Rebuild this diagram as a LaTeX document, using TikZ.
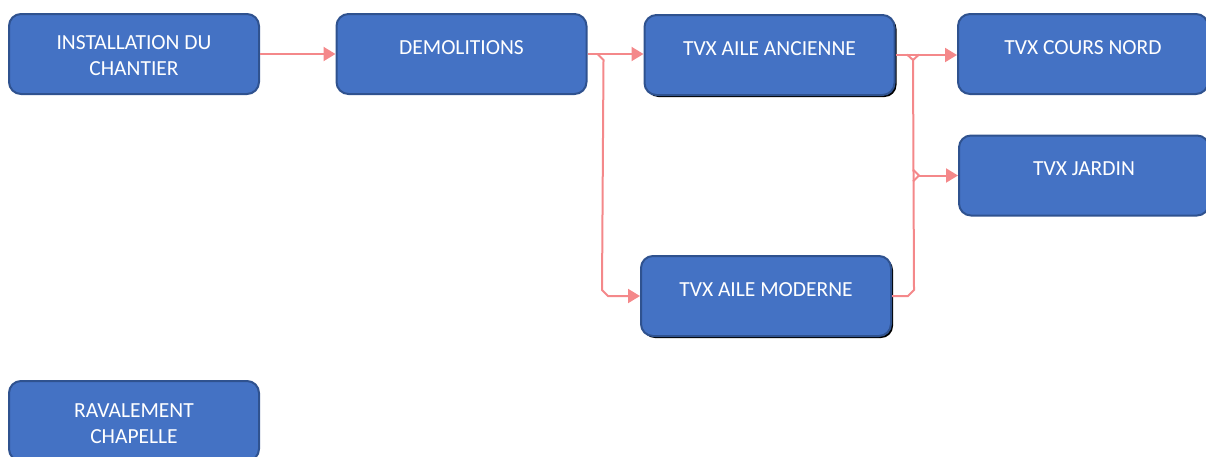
\documentclass[tikz,border=0pt]{standalone}
\usepackage{fontspec}
\setmainfont{Carlito}
\usetikzlibrary{arrows.meta,calc,shadows}
\definecolor{boxfill}{HTML}{4472C4}
\definecolor{boxline}{HTML}{2F528F}
\definecolor{connc}{HTML}{F4888A}
\begin{document}
\begin{tikzpicture}[x=1pt,y=-1pt,
  box/.style={draw=boxline, line width=2pt, fill=boxfill, rounded corners=12pt,
    minimum width=250pt, minimum height=80pt, inner sep=0pt},
  txt/.style={text=white, anchor=base, inner sep=0pt, font=\fontsize{21.5}{26}\selectfont},
  shadowed/.style={general shadow={fill=black, shadow xshift=2pt, shadow yshift=-2pt}},
  ln/.style={draw=connc, line width=2pt},
  arr/.style={ln, -{Triangle[length=12pt,width=14pt]}}]
\useasboundingbox (0,0) rectangle (1206,456);
\clip (0,0) rectangle (1206,456);
\node[box] (inst) at (134,54) {};
\node[txt] (inst-a) at ($(inst)+(0,-5)$) {INSTALLATION DU};
\node[txt] (inst-b) at ($(inst)+(0,21)$) {CHANTIER};
\node[box] (demo) at (461.5,54) {};
\node[txt] (demo-a) at (demo) {DEMOLITIONS};
\node[box,shadowed] (anc) at (769.5,55) {};
\node[txt] (anc-a) at (anc) {TVX AILE ANCIENNE};
\node[box] (nord) at (1083,54) {};
\node[txt] (nord-a) at (nord) {TVX COURS NORD};
\node[box] (jard) at (1084,175.5) {};
\node[txt] (jard-a) at (jard) {TVX JARDIN};
\node[box,shadowed] (mod) at (766,296) {};
\node[txt] (mod-a) at (mod) {TVX AILE MODERNE};
\node[box] (rav) at (134,421) {};
\node[txt] (rav-a) at ($(rav)+(0,-4)$) {RAVALEMENT};
\node[txt] (rav-b) at ($(rav)+(0,22)$) {CHAPELLE};
% connectors
\draw[arr] (inst.east) -- (demo.west);
\draw[arr] (demo.east) -- (demo.east -| anc.west);
\draw[arr] ($(demo.east)+(10,0)$) -- ++(6,6) -- ($(mod.west)+(-38,-6)$) -- ++(6,6) -- (mod.west);
\draw[arr] (anc.east) -- (anc.east -| nord.west);
\coordinate (vt) at (913,60);
\coordinate (jt) at (919,175.5);
\draw[ln] (mod.east) -- ++(16,0) -- ++(6,-6) -- (vt);
\draw[ln] (907,54.5) -- (vt) -- (919,54.5);
\draw[ln] (913,169.5) -- (jt) -- (913,181.5);
\draw[arr] (jt) -- (jard.west);
\end{tikzpicture}
\end{document}
